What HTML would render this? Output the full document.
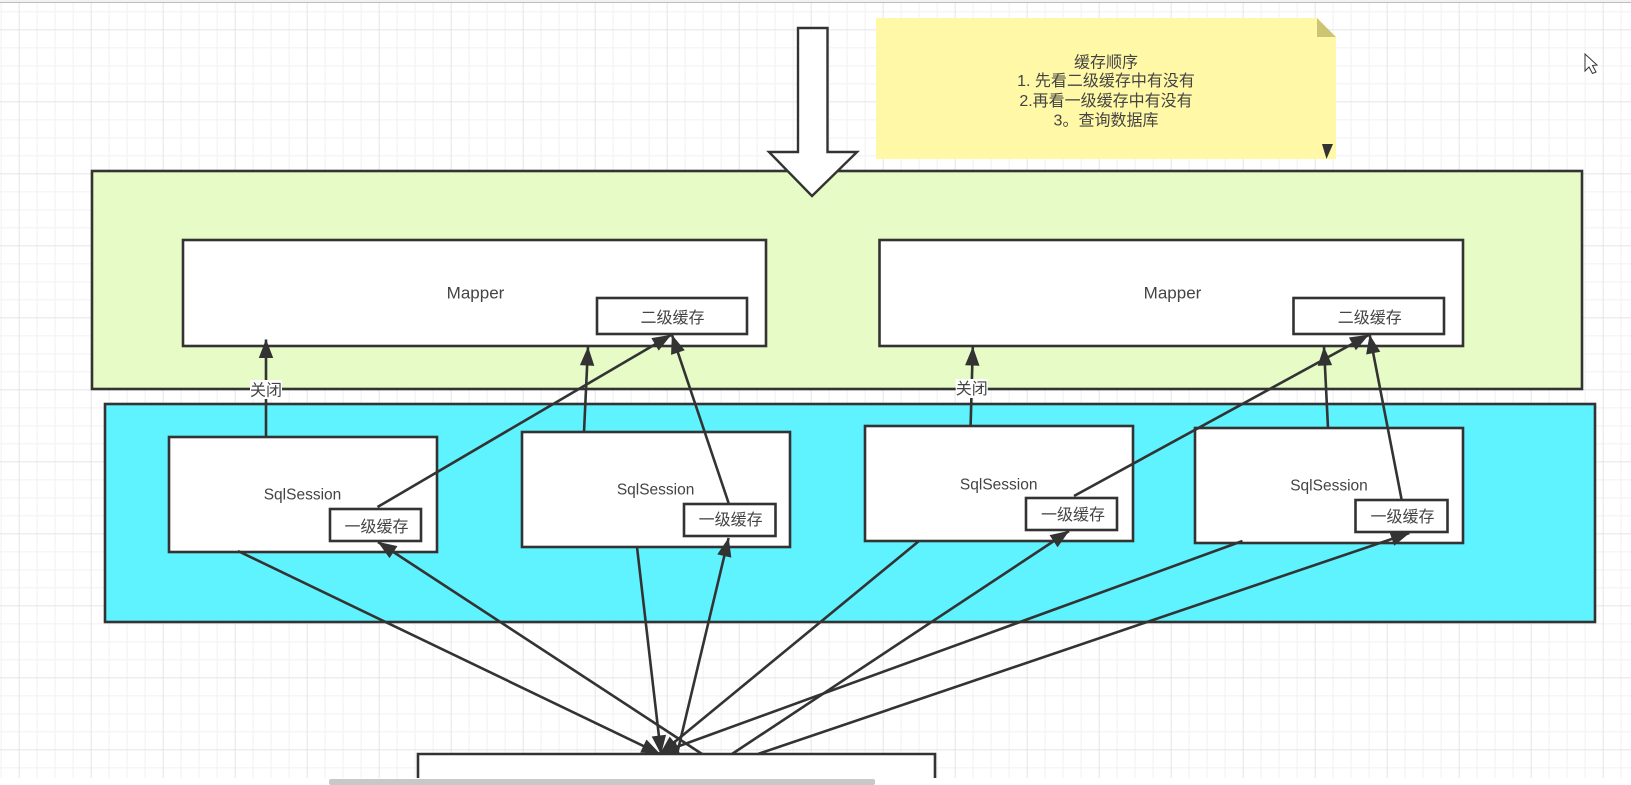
<!DOCTYPE html>
<html>
<head>
<meta charset="utf-8">
<style>
html,body{margin:0;padding:0;background:#fff;width:1631px;height:785px;overflow:hidden}
svg{display:block}
text{font-family:"Liberation Sans","Noto Sans CJK SC",sans-serif;font-size:16px;fill:#444;text-anchor:middle;dominant-baseline:central}
.b{stroke:#333;stroke-width:2.6;fill:#fff}
.l{stroke:#333;stroke-width:2.6;fill:none;marker-end:url(#a)}
</style>
</head>
<body>
<svg width="1631" height="785" viewBox="0 0 1631 785" xmlns="http://www.w3.org/2000/svg">
<defs>
<pattern id="minor" x="0.67" y="11.33" width="18" height="18" patternUnits="userSpaceOnUse">
<path d="M0.5 0V18M0 0.5H18" stroke="#f2f2f2" stroke-width="1" fill="none"/>
</pattern>
<pattern id="major" x="18.67" y="29.33" width="72" height="72" patternUnits="userSpaceOnUse">
<path d="M0.5 0V72M0 0.5H72" stroke="#e7e7e7" stroke-width="1" fill="none"/>
</pattern>
<marker id="a" markerUnits="userSpaceOnUse" markerWidth="22" markerHeight="18" refX="19" refY="8" orient="auto">
<path d="M1 1.5L18 8L1 14.5Z" fill="#333" stroke="#333" stroke-width="1"/>
</marker>
</defs>

<rect width="1631" height="785" fill="#fff"/>
<rect x="0" y="3" width="1631" height="775" fill="url(#minor)"/>
<rect x="0" y="3" width="1631" height="775" fill="url(#major)"/>
<rect x="0" y="0" width="1631" height="2" fill="#f2f2f2"/>
<rect x="0" y="2" width="1631" height="1" fill="#bdbdbd"/>

<!-- containers -->
<rect x="92" y="171" width="1490" height="218" fill="#e6fbc6" stroke="#333" stroke-width="2.6"/>
<rect x="105" y="404" width="1490" height="218" fill="#5ef3ff" stroke="#333" stroke-width="2.6"/>

<!-- note -->
<path d="M876 18H1317L1336 37V159H876Z" fill="#fff8a6"/>
<path d="M1317 18L1336 37H1317Z" fill="#cdc574"/>
<path d="M1322 144H1333L1326.5 159Z" fill="#333"/>
<text x="1106" y="63">缓存顺序</text>
<text x="1106" y="81.5">1. 先看二级缓存中有没有</text>
<text x="1106" y="101.5">2.再看一级缓存中有没有</text>
<text x="1106" y="121">3。查询数据库</text>

<!-- mappers -->
<rect class="b" x="183" y="240" width="583" height="106"/>
<rect class="b" x="879.5" y="240" width="583.5" height="106"/>
<rect class="b" x="597" y="298" width="150" height="36"/>
<rect class="b" x="1293.5" y="298" width="150.5" height="36"/>
<text x="475.5" y="293" style="font-size:17px">Mapper</text>
<text x="1172.5" y="293" style="font-size:17px">Mapper</text>
<text x="672.5" y="318.5">二级缓存</text>
<text x="1369.7" y="318.5">二级缓存</text>

<!-- sessions -->
<rect class="b" x="169" y="437" width="268" height="115"/>
<rect class="b" x="522" y="432" width="268" height="115"/>
<rect class="b" x="865" y="426" width="268" height="115"/>
<rect class="b" x="1195" y="428" width="268" height="115"/>
<text x="302.5" y="495" style="font-size:15.5px">SqlSession</text>
<text x="655.6" y="490" style="font-size:15.5px">SqlSession</text>
<text x="998.7" y="485" style="font-size:15.5px">SqlSession</text>
<text x="1329" y="486" style="font-size:15.5px">SqlSession</text>

<rect class="b" x="330" y="509" width="91" height="32"/>
<rect class="b" x="684" y="504" width="91.5" height="32"/>
<rect class="b" x="1026" y="498" width="91" height="32"/>
<rect class="b" x="1355.5" y="500" width="92" height="32"/>
<text x="376.5" y="527.5">一级缓存</text>
<text x="730.6" y="520.5">一级缓存</text>
<text x="1073" y="515.5">一级缓存</text>
<text x="1402.5" y="517.5">一级缓存</text>

<!-- bottom box -->
<path d="M418 778V754H935V778" fill="#fff" stroke="#333" stroke-width="2.6"/>

<!-- connectors up -->
<line class="l" x1="266" y1="437" x2="266" y2="339.5"/>
<line class="l" x1="584" y1="432" x2="588" y2="347"/>
<line class="l" x1="377.5" y1="507" x2="671" y2="335"/>
<line class="l" x1="728.6" y1="503" x2="672" y2="335"/>
<line class="l" x1="970.6" y1="426" x2="972.8" y2="347"/>
<line class="l" x1="1328" y1="428" x2="1324" y2="347"/>
<line class="l" x1="1074" y1="496" x2="1368.6" y2="335"/>
<line class="l" x1="1401.5" y1="499" x2="1369.7" y2="335"/>

<!-- connectors down -->
<line class="l" x1="238" y1="551" x2="660" y2="754"/>
<line class="l" x1="637" y1="547" x2="661" y2="754"/>
<line class="l" x1="919" y1="541" x2="660" y2="754"/>
<line class="l" x1="1242.5" y1="541" x2="660" y2="753"/>

<!-- connectors from bottom box -->
<line class="l" x1="702" y1="754" x2="378" y2="542"/>
<line class="l" x1="677" y1="754" x2="728.6" y2="538"/>
<line class="l" x1="732" y1="754" x2="1069" y2="531"/>
<line class="l" x1="758" y1="754" x2="1409.4" y2="533"/>

<!-- labels -->
<rect x="250" y="380" width="32" height="19" fill="#fff"/>
<text x="266" y="391">关闭</text>
<rect x="955.7" y="379" width="32" height="19" fill="#fff"/>
<text x="971.7" y="389.5">关闭</text>

<!-- big arrow -->
<path d="M798 28H827.5V152H857L812 196L769 152H798Z" fill="#fff" stroke="#333" stroke-width="2.4"/>

<!-- cursor -->
<path d="M1585 54V71L1589 67L1592.5 73.5L1596 72L1592.5 65.5L1597 65Z" fill="#fff" stroke="#333" stroke-width="1"/>

<!-- bottom strip -->
<rect x="0" y="778" width="1631" height="7" fill="#fff"/>
<rect x="329" y="779" width="546" height="6" rx="2" fill="#c8c8c8"/>
</svg>
</body>
</html>
